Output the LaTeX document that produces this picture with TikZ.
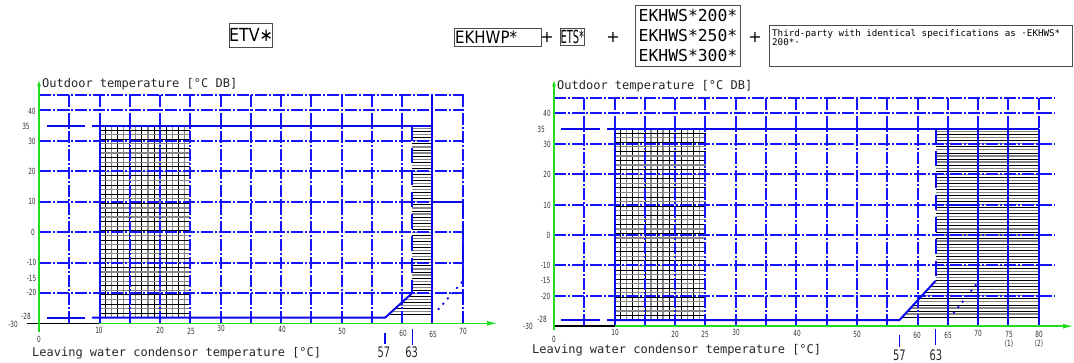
\documentclass[tikz,border=0pt]{standalone}
\usepackage{fontspec}
\setmainfont{DejaVu Sans}
\newfontfamily\monof{DejaVu Sans Mono}
\newfontfamily\condf[FakeStretch=0.88]{DejaVu Sans}
\newfontfamily\narrowf[FakeStretch=0.55]{DejaVu Sans}
\newfontfamily\tickf[FakeStretch=0.68]{DejaVu Sans}
\usetikzlibrary{arrows.meta}
\definecolor{gridblue}{RGB}{20,20,255}
\definecolor{envblue}{RGB}{10,10,235}
\definecolor{axgreen}{RGB}{30,220,30}
\definecolor{hgray}{RGB}{135,135,135}
\definecolor{labgray}{RGB}{50,50,50}
\tikzset{
 gridln/.style={draw=gridblue, line width=1.2pt, dash pattern=on 12pt off 2pt on 2pt off 2pt},
 envln/.style={draw=envblue, line width=2pt},
 envdash/.style={envln, dash pattern=on 15pt off 7pt},
 dotln/.style={draw=envblue, line width=1.8pt, dash pattern=on 2pt off 5pt},
 hblack/.style={draw=black, line width=0.8pt},
 hgrayln/.style={draw=hgray, line width=1.2pt},
 tickl/.style={font=\tickf\fontsize{8.5}{9}\selectfont, text=labgray, inner sep=0pt, align=center},
 bigtick/.style={font=\tickf\fontsize{14.5}{16}\selectfont, text=black!85, inner sep=0pt},
 axtitle/.style={font=\monof\fontsize{12}{14}\selectfont, text=black!85, inner sep=0pt, anchor=west},
 axisln/.style={draw=axgreen, line width=1.6pt},
 boxed/.style={draw=black!70, line width=0.9pt},
 plus/.style={font=\fontsize{16}{18}\selectfont, inner sep=0pt},
}
\begin{document}
\begin{tikzpicture}[x=1pt,y=-1pt]
\useasboundingbox (0,0) rectangle (1074,362);

%================ LEFT CHART ================
\begin{scope}[shift={(39,232.3)}, x=6.05pt, y=3.05pt]
 % cross hatch
 \foreach \t in {11,13,...,23} \draw[hblack] (\t,-28) -- (\t,35);
 \foreach \t in {12,14,...,24} \draw[hgrayln] (\t,-28) -- (\t,35);
 \foreach \v in {-26.5,-23.5,...,33.5} \draw[hblack] (10,\v) -- (25,\v);
 \foreach \v in {-25,-22,...,32} \draw[hgrayln] (10,\v) -- (25,\v);
 % horizontal hatch
 \foreach \v in {-27,-25,...,33} {
   \pgfmathsetmacro{\xs}{(\v < -19.9) ? 57.2+(\v+28)*4.5/8.1 : 61.7}
   \draw[hblack] (\xs,\v) -- (65,\v);
 }
 \foreach \v in {-26,-24,...,34} {
   \pgfmathsetmacro{\xs}{(\v < -19.9) ? 57.2+(\v+28)*4.5/8.1 : 61.7}
   \draw[hgrayln] (\xs,\v) -- (65,\v);
 }
\end{scope}
% left grid
\foreach \t in {5,10,...,70} {
  \pgfmathsetmacro{\px}{round(39+6.05*\t)}
  \draw[gridln] (\px,95) -- (\px,323);
}
\foreach \v in {45,40,30,20,10,0,-10,-20} {
  \pgfmathsetmacro{\py}{round(232.3-3.05*\v)}
  \draw[gridln] (39,\py) -- (464,\py);
}
\begin{scope}[shift={(39,232.3)}, x=6.05pt, y=3.05pt]
 % envelope
 \draw[envln] (1.32,35) -- (7.6,35);
 \draw[envln] (8.76,35) -- (65,35);
 \draw[envln] (1.32,-28) -- (7.6,-28);
 \draw[envln] (8.76,-28) -- (57.2,-28) -- (61.7,-19.9);
 \draw[envln] (10,35) -- (10,-30);
 \draw[envln] (65,45) -- (65,-30);
 \draw[envdash] (61.7,35) -- (61.7,-19.9);
 \draw[envln] (65,10) -- (70,10);
 \draw[envdash] (70,10) -- (70,-30);
 \draw[dotln] (65.95,-25.4) -- (70.1,-15.9);
 % 57 / 63 markers
 \draw[envln, line width=1.2pt] (57.2,-33) -- (57.2,-36.6);
 \draw[envln, line width=1.2pt] (61.7,-31.7) -- (61.7,-36.9);
 \node[bigtick] (l57) at (57.0,-39.4) {57};
 \node[bigtick] (l63) at (61.6,-39.4) {63};
\end{scope}

% left axes
\draw[black, line width=1.5pt] (27,323.3) -- (99,323.3);
\draw[axisln, -{Latex[length=11pt,width=5pt]}] (99,323.3) -- (498,323.3);
\draw[axisln, -{Latex[length=6pt,width=4pt]}] (39,332) -- (39,80);

% left tick labels
\node[tickl] (ly40) at (32,111) {40};
\node[tickl] (ly35) at (26,126.7) {35};
\node[tickl] (ly30) at (32,141.3) {30};
\node[tickl] (ly20) at (32,171.7) {20};
\node[tickl] (ly10) at (32,201.7) {10};
\node[tickl] (ly0) at (33,232.3) {0};
\node[tickl] (lym10) at (31.5,262.7) {-10};
\node[tickl] (lym15) at (31.5,278) {-15};
\node[tickl] (lym20) at (31.5,292.7) {-20};
\node[tickl] (lym28) at (26,316.7) {-28};
\node[tickl] (lym30) at (13,324) {-30};
\node[tickl] (lx0) at (39,339.5) {0};
\node[tickl] (lx10) at (99,330) {10};
\node[tickl] (lx20) at (160,330) {20};
\node[tickl] (lx25) at (191,331) {25};
\node[tickl] (lx30) at (221,328) {30};
\node[tickl] (lx40) at (282,329) {40};
\node[tickl] (lx50) at (342,331) {50};
\node[tickl] (lx60) at (403,333) {60};
\node[tickl] (lx65) at (433,334) {65};
\node[tickl] (lx70) at (463,331) {70};
\node[axtitle] (lyt) at (42,84) {Outdoor temperature [°C DB]};
\node[axtitle] (lxt) at (32,353) {Leaving water condensor temperature [°C]};

%================ RIGHT CHART ================
\begin{scope}[shift={(554,235)}, x=6.06pt, y=3.04pt]
 % cross hatch
 \foreach \t in {11,13,...,23} \draw[hblack] (\t,-28) -- (\t,35);
 \foreach \t in {12,14,...,24} \draw[hgrayln] (\t,-28) -- (\t,35);
 \foreach \v in {-26.5,-23.5,...,33.5} \draw[hblack] (10,\v) -- (25,\v);
 \foreach \v in {-25,-22,...,32} \draw[hgrayln] (10,\v) -- (25,\v);
 % horizontal hatch
 \foreach \v in {-27,-25,...,33} {
   \pgfmathsetmacro{\xs}{(\v < -15) ? 57+(\v+28)*6/13 : 63}
   \draw[hblack] (\xs,\v) -- (80,\v);
 }
 \foreach \v in {-26,-24,...,34} {
   \pgfmathsetmacro{\xs}{(\v < -15) ? 57+(\v+28)*6/13 : 63}
   \draw[hgrayln] (\xs,\v) -- (80,\v);
 }
\end{scope}
% right grid
\foreach \t in {5,10,...,80} {
  \pgfmathsetmacro{\px}{round(554+6.06*\t)}
  \draw[gridln] (\px,98) -- (\px,326);
}
\foreach \v in {45,40,30,20,10,0,-10,-20} {
  \pgfmathsetmacro{\py}{round(235-3.04*\v)}
  \draw[gridln] (554,\py) -- (1055,\py);
}
\foreach \t in {65,70,75} {
  \pgfmathsetmacro{\px}{round(554+6.06*\t)}
  \draw[envln, line width=1.4pt] (\px,128.6) -- (\px,326);
}
\begin{scope}[shift={(554,235)}, x=6.06pt, y=3.04pt]
 % envelope
 \draw[envln] (1.16,35) -- (7.6,35);
 \draw[envln] (8.75,35) -- (80,35);
 \draw[envln] (1.16,-28) -- (7.6,-28);
 \draw[envln] (8.75,-28) -- (57,-28) -- (63,-15);
 \draw[envln] (10,35) -- (10,-30);
 \draw[envln] (80,35) -- (80,-30);
 \draw[envdash] (63,35) -- (63,-15);
 \draw[envln] (65,10) -- (70,10);
 \draw[dotln] (65.9,-25.8) -- (70.0,-15.4);
 % 57 / 63 markers
 \draw[envln, line width=1.2pt] (57,-32.9) -- (57,-36.8);
 \draw[envln, line width=1.2pt] (63,-30.9) -- (63,-36.2);
 \node[bigtick] (r57) at (57,-39.5) {57};
 \node[bigtick] (r63) at (63,-39.5) {63};
\end{scope}

% right axes
\draw[black, line width=1.5pt] (553,326.2) -- (615,326.2);
\draw[axisln, -{Latex[length=11pt,width=5pt]}] (615,326.2) -- (1074,326.2);
\draw[axisln, -{Latex[length=6pt,width=4pt]}] (554,330) -- (554,80);

% right tick labels
\node[tickl] (ry40) at (547,113.7) {40};
\node[tickl] (ry35) at (541,129.3) {35};
\node[tickl] (ry30) at (547,144) {30};
\node[tickl] (ry20) at (547,174.3) {20};
\node[tickl] (ry10) at (547,205) {10};
\node[tickl] (ry0) at (548.5,235) {0};
\node[tickl] (rym10) at (545.5,265.3) {-10};
\node[tickl] (rym15) at (545.5,280.7) {-15};
\node[tickl] (rym20) at (545.5,296) {-20};
\node[tickl] (rym28) at (542,319.7) {-28};
\node[tickl] (rym30) at (528,326.7) {-30};
\node[tickl] (rx0) at (554,339.5) {0};
\node[tickl] (rx10) at (615,332.7) {10};
\node[tickl] (rx20) at (675,334) {20};
\node[tickl] (rx25) at (705,334) {25};
\node[tickl] (rx30) at (736,332) {30};
\node[tickl] (rx40) at (797,333) {40};
\node[tickl] (rx50) at (857,334) {50};
\node[tickl] (rx60) at (917,335) {60};
\node[tickl] (rx65) at (948,335) {65};
\node[tickl] (rx70) at (978,333.7) {70};
\node[tickl] (rx75) at (1009,334) {75};
\node[tickl] (rx75b) at (1009,344) {(1)};
\node[tickl] (rx80) at (1039,334) {80};
\node[tickl] (rx80b) at (1039,344) {(2)};
\node[axtitle] (ryt) at (557,86) {Outdoor temperature [°C DB]};
\node[axtitle] (rxt) at (532,350) {Leaving water condensor temperature [°C]};

%================ TOP BOXES ================
\node[boxed, minimum width=43.4pt, minimum height=24pt, inner sep=0pt, font=\condf\fontsize{18}{20}\selectfont] (etv) at (251,35.3) {ETV∗};
\draw[boxed] (454,28) rectangle (541,46);
\node[anchor=west, inner sep=0pt, font=\condf\fontsize{17}{19}\selectfont] (ekhwp) at (455,37) {EKHWP*};
\node[plus] (p1) at (547,37) {+};
\node[boxed, minimum width=23.3pt, minimum height=17.3pt, inner sep=0pt, font=\narrowf\fontsize{18}{20}\selectfont] (ets) at (572.3,36.7) {ETS*};
\node[plus] (p2) at (613,37) {+};
\draw[boxed] (635.7,5) rectangle (740,66.7);
\node[inner sep=0pt, font=\monof\fontsize{16.4}{19.6}\selectfont, align=left] (ekhws) at (688,35.5) {EKHWS*200*\\EKHWS*250*\\EKHWS*300*};
\node[plus] (p3) at (755,37) {+};
\draw[boxed] (769,25.3) rectangle (1072,66.3);
\node[anchor=north west, inner sep=0pt, font=\monof\fontsize{9.2}{8.6}\selectfont, align=left] (third) at (772,29) {Third-party with identical specifications as ·EKHWS*\\200*·};
\end{tikzpicture}
\end{document}
